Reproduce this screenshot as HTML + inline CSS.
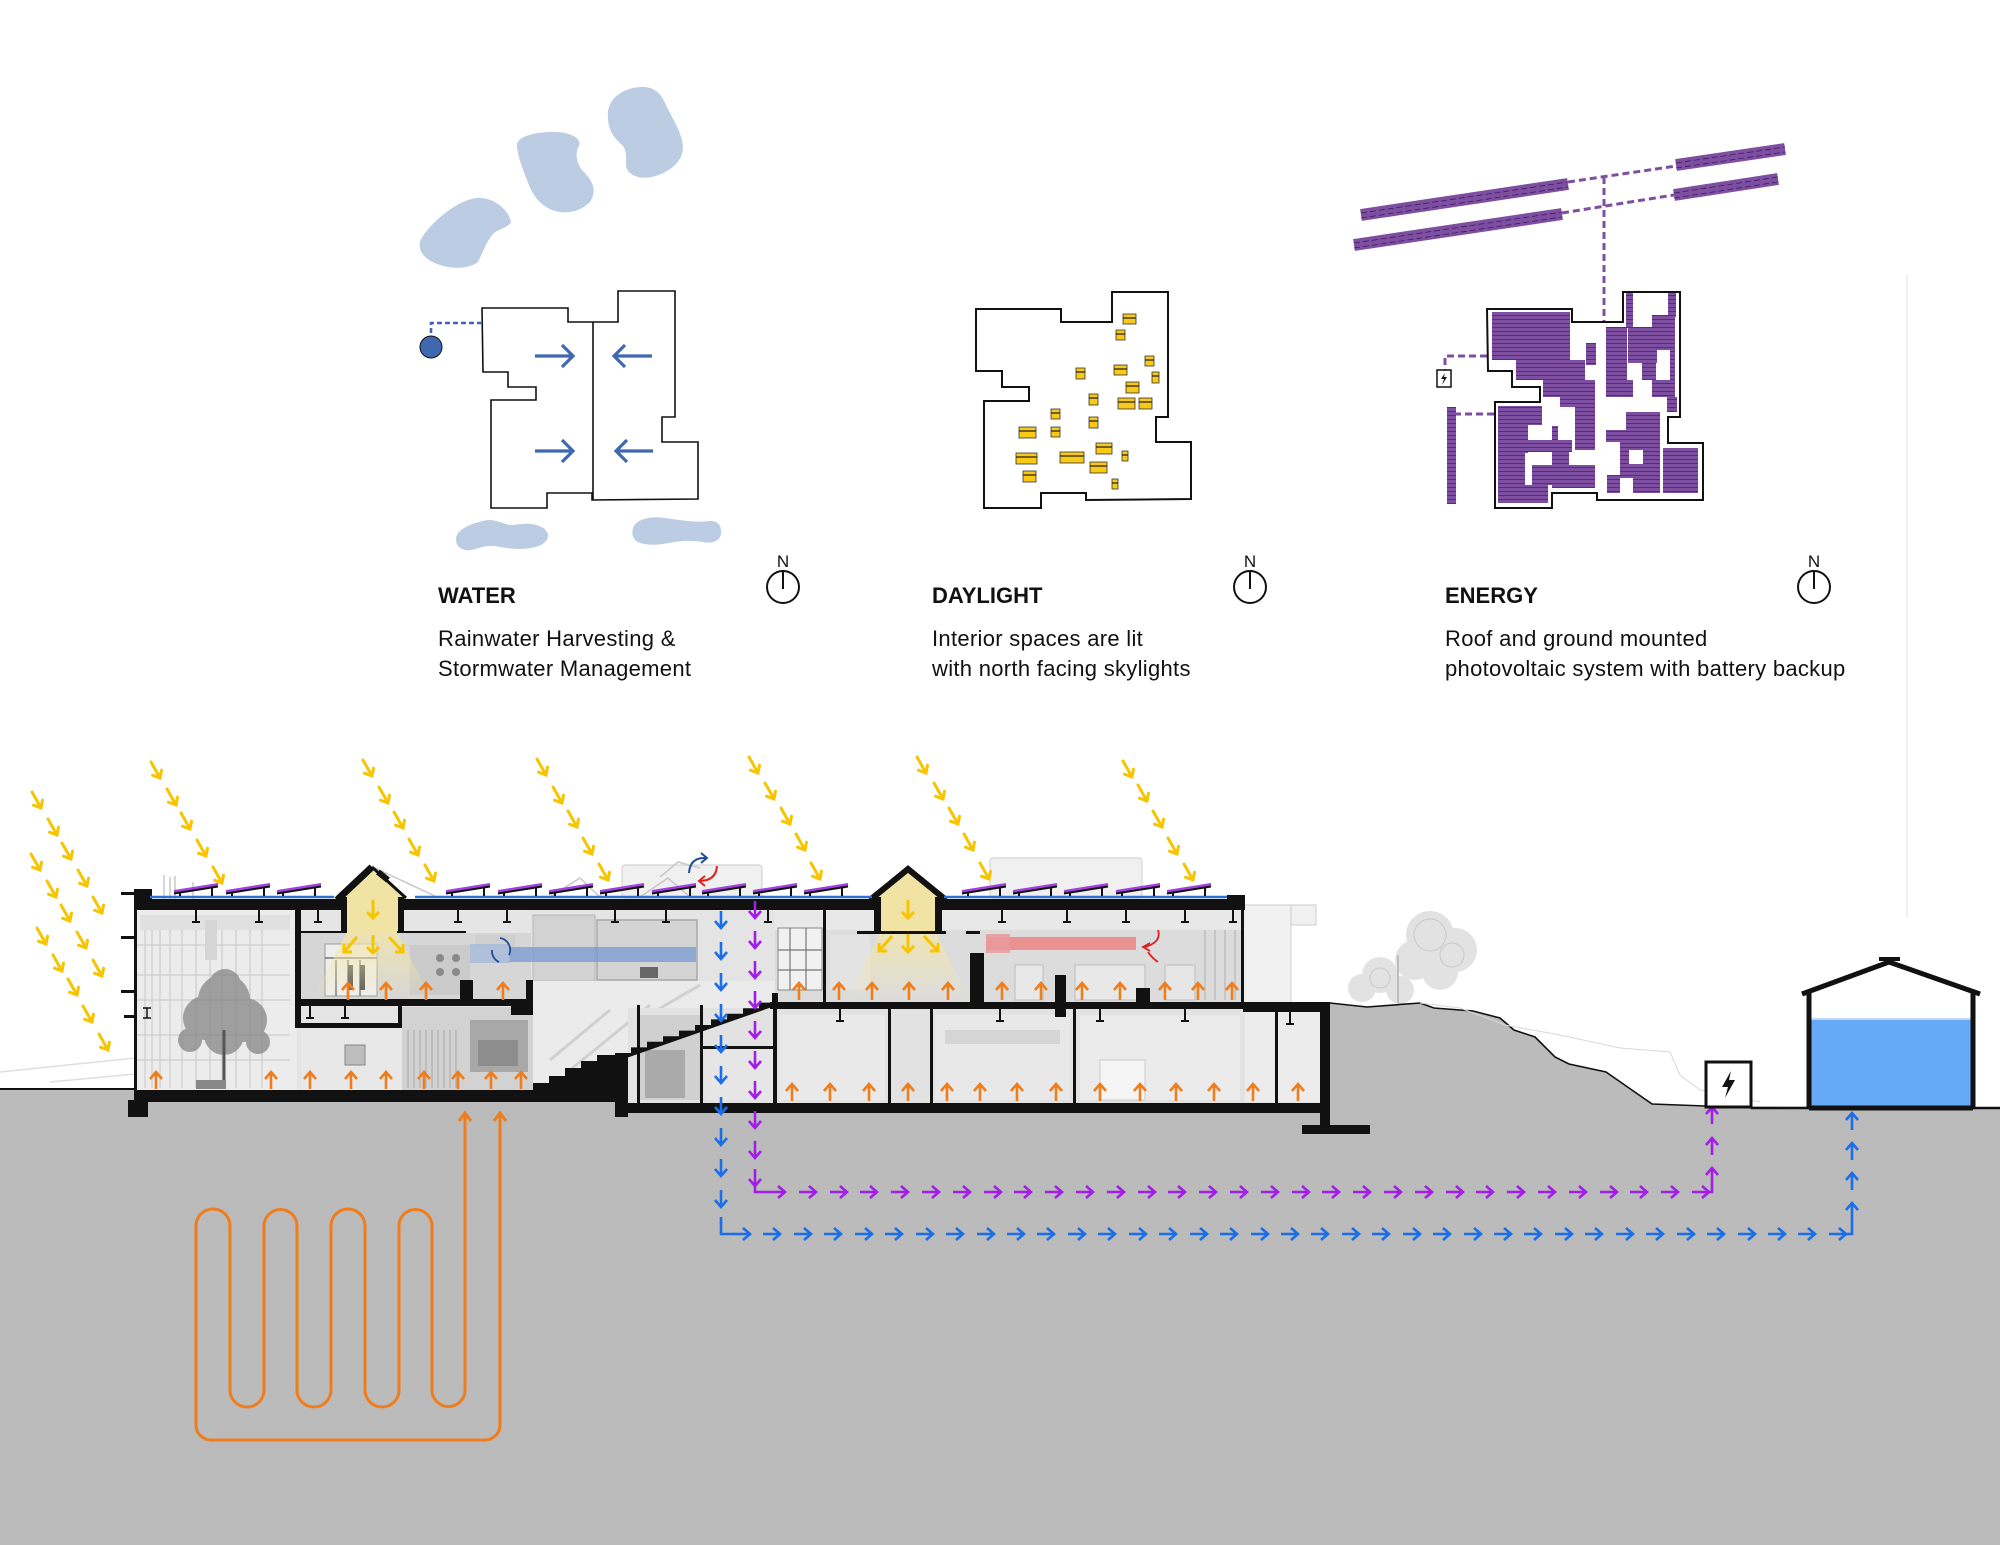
<!DOCTYPE html>
<html><head><meta charset="utf-8"><style>
html,body{margin:0;padding:0;background:#fff}
svg{display:block}
text{font-family:"Liberation Sans",Arial,sans-serif;fill:#111}
</style></head><body>
<svg width="2000" height="1545" viewBox="0 0 2000 1545" xmlns="http://www.w3.org/2000/svg">
<defs>
<path id="sun" d="M-9,-16L0,0M-7.5,-2.8L0,0L1.5,-7.8" fill="none" stroke-linecap="round"/>
<path id="dn" d="M0,-17V0M-6,-7L0,0L6,-7" fill="none"/>
<path id="up" d="M0,17V0M-6,7L0,0L6,7" fill="none"/>
<path id="rt" d="M-17,0H0M-7,-6L0,0L-7,6" fill="none"/>
<g id="pv"><path d="M0,7L44,0L44,3.5L0,10.5Z" fill="#a23fe0"/><path d="M0,10.5L44,3.5" stroke="#111" stroke-width="2"/><path d="M6,9.5V13M38,4.5V13" stroke="#111" stroke-width="2"/></g>
<g id="hg"><path d="M0,0V12M-4,12H4" stroke="#111" stroke-width="2" fill="none"/></g>
<pattern id="ph" width="6" height="4" patternUnits="userSpaceOnUse"><rect width="6" height="4" fill="#7e4fa0"/><line x1="0" y1="3.4" x2="6" y2="3.4" stroke="#3f1f63" stroke-width="0.7"/></pattern>
<linearGradient id="yl" x1="0" y1="0" x2="0" y2="1"><stop offset="0" stop-color="#f4e6a8" stop-opacity="0.8"/><stop offset="1" stop-color="#f4e6a8" stop-opacity="0"/></linearGradient>
</defs>

<line x1="1907" y1="274" x2="1907" y2="918" stroke="#f1f1f1" stroke-width="2"/>

<!-- WATER PLAN -->
<g fill="#bbcce3">
<path d="M420,242 C425,228 455,200 477,198 C492,197 508,208 511,222 C508,228 499,229 494,233 C487,240 484,250 478,262 C470,268 455,270 440,265 C425,260 418,252 420,242Z"/>
<path d="M517,147 C515,138 530,133 548,132 C570,131 582,138 579,146 C575,152 576,162 582,170 C592,180 598,190 590,202 C580,212 565,215 552,210 C540,205 532,195 527,180 C522,168 518,156 517,147Z"/>
<path d="M608,117 C606,100 622,88 640,87 C655,86 662,95 666,105 C672,118 682,132 683,147 C683,160 672,172 652,177 C638,180 627,174 626,166 C626,156 627,150 622,145 C614,138 608,130 608,117Z"/>
<path d="M457,535 C460,528 475,522 488,520 C500,520 506,526 514,525 C528,522 546,524 548,535 C548,545 535,549 517,549 C505,549 497,545 488,546 C478,547 470,553 462,549 C456,546 455,540 457,535Z"/>
<path d="M633,528 C636,519 650,516 665,518 C680,520 695,523 710,521 C719,521 722,527 721,534 C720,541 712,544 703,542 C690,540 680,541 668,543 C655,546 640,545 635,540 C632,536 632,532 633,528Z"/>
</g>
<path d="M482,308 H568 V322 H618 V291 H675 V417 H662 V442 H698 V499 L592,500 V493 H547 V508 H491 V400 H536 V387 H508 V372 H483 Z M593,322 V500" fill="none" stroke="#111" stroke-width="1.6"/>
<path d="M482,323 H431 V337" fill="none" stroke="#3f68b0" stroke-width="2.6" stroke-dasharray="5,3"/>
<circle cx="431" cy="347" r="11" fill="#3f68b0" stroke="#111" stroke-width="1"/>
<g stroke="#3f68b0" stroke-width="3.2" fill="none">
<path d="M535,356H573M562,345L573,356L562,367"/>
<path d="M535,451H573M562,440L573,451L562,462"/>
<path d="M652,356H614M625,345L614,356L625,367"/>
<path d="M653,451H616M627,440L616,451L627,462"/>
</g>

<!-- DAYLIGHT PLAN -->
<path d="M976,309 H1061 V322 H1112 V292 H1168 V417 H1156 V442 H1191 V499 L1086,500 V493 H1041 V508 H984 V401 H1029 V387 H1002 V371 H976 Z" fill="#fff" stroke="#111" stroke-width="2"/>
<g fill="#f8c916" stroke="#333" stroke-width="0.8">
<rect x="1123" y="314" width="13" height="10"/><rect x="1116" y="330" width="9" height="10"/>
<rect x="1145" y="356" width="9" height="10"/><rect x="1076" y="368" width="9" height="11"/>
<rect x="1114" y="365" width="13" height="10"/><rect x="1152" y="372" width="7" height="11"/>
<rect x="1126" y="382" width="13" height="11"/><rect x="1089" y="394" width="9" height="11"/>
<rect x="1118" y="398" width="17" height="11"/><rect x="1139" y="398" width="13" height="11"/>
<rect x="1051" y="409" width="9" height="10"/><rect x="1089" y="417" width="9" height="11"/>
<rect x="1019" y="427" width="17" height="11"/><rect x="1051" y="427" width="9" height="10"/>
<rect x="1096" y="443" width="16" height="11"/><rect x="1122" y="451" width="6" height="10"/>
<rect x="1016" y="453" width="21" height="11"/><rect x="1060" y="452" width="24" height="11"/>
<rect x="1023" y="471" width="13" height="11"/><rect x="1090" y="462" width="17" height="11"/>
<rect x="1112" y="479" width="6" height="10"/>
</g>
<path d="M1123,318H1136M1116,334H1125M1145,360H1154M1076,372H1085M1114,369H1127M1152,376H1159M1126,386H1139M1089,398H1098M1118,402H1135M1139,402H1152M1051,413H1060M1089,421H1098M1019,431H1036M1051,431H1060M1096,447H1112M1122,455H1128M1016,457H1037M1060,456H1084M1023,475H1036M1090,466H1107M1112,483H1118" stroke="#222" stroke-width="1.2"/>

<!-- ENERGY PLAN -->
<g stroke="#7e4fa0">
<line x1="1361" y1="215" x2="1568" y2="184" stroke-width="12"/>
<line x1="1354" y1="245" x2="1562" y2="214" stroke-width="12"/>
<line x1="1676" y1="165" x2="1785" y2="149" stroke-width="12"/>
<line x1="1674" y1="195" x2="1778" y2="179" stroke-width="12"/>
</g>
<g stroke="#3b1b5e" stroke-width="0.8" stroke-dasharray="6,3">
<line x1="1361" y1="213" x2="1568" y2="182"/><line x1="1361" y1="218" x2="1568" y2="187"/>
<line x1="1354" y1="243" x2="1562" y2="212"/><line x1="1354" y1="248" x2="1562" y2="217"/>
<line x1="1676" y1="163" x2="1785" y2="147"/><line x1="1676" y1="168" x2="1785" y2="152"/>
<line x1="1674" y1="193" x2="1778" y2="177"/><line x1="1674" y1="198" x2="1778" y2="182"/>
</g>
<g stroke="#7e4fa0" stroke-width="3" stroke-dasharray="7,4" fill="none">
<path d="M1568,182 L1676,166"/><path d="M1562,213 L1674,195"/>
<path d="M1604,177 V322"/>
<path d="M1487,356 H1445 V370"/>
<path d="M1494,414 H1456"/>
</g>
<path d="M1487,309 H1572 V322 H1623 V292 H1680 V417 H1668 V443 H1703 V500 H1597 V493 H1552 V508 H1495 V402 H1540 V387 H1512 V371 H1488 Z" fill="#fff" stroke="#111" stroke-width="2"/>
<g fill="url(#ph)">
<rect x="1492" y="312" width="78" height="48"/>
<rect x="1516" y="360" width="69" height="20"/>
<rect x="1543" y="380" width="52" height="17"/>
<rect x="1560" y="397" width="35" height="10"/>
<rect x="1575" y="407" width="20" height="43"/>
<rect x="1586" y="343" width="10" height="22"/>
<rect x="1498" y="406" width="44" height="19"/>
<rect x="1498" y="425" width="30" height="28"/>
<rect x="1528" y="440" width="44" height="12"/>
<rect x="1552" y="426" width="6" height="14"/>
<rect x="1498" y="452" width="27" height="51"/>
<rect x="1525" y="485" width="23" height="18"/>
<rect x="1532" y="465" width="20" height="20"/>
<rect x="1552" y="452" width="17" height="13"/>
<rect x="1552" y="465" width="43" height="23"/>
<rect x="1606" y="327" width="21" height="70"/>
<rect x="1613" y="380" width="20" height="17"/>
<rect x="1626" y="293" width="7" height="35"/>
<rect x="1628" y="327" width="47" height="23"/>
<rect x="1652" y="315" width="23" height="12"/>
<rect x="1668" y="293" width="8" height="24"/>
<rect x="1628" y="350" width="29" height="13"/>
<rect x="1642" y="363" width="14" height="17"/>
<rect x="1670" y="350" width="5" height="47"/>
<rect x="1652" y="380" width="23" height="17"/>
<rect x="1667" y="397" width="10" height="15"/>
<rect x="1626" y="412" width="34" height="18"/>
<rect x="1606" y="430" width="54" height="12"/>
<path d="M1620,442H1660V493H1633V478H1620Z M1629,450V464H1643V450Z" fill-rule="evenodd"/>
<rect x="1607" y="475" width="13" height="18"/>
<rect x="1663" y="448" width="35" height="45"/>
<rect x="1447" y="407" width="9" height="97"/>
</g>
<rect x="1437" y="370" width="14" height="17" fill="#fff" stroke="#111" stroke-width="1.5"/>
<path d="M1445,373L1441,379H1444L1442,385L1447,377H1444Z" fill="#111"/>

<!-- TEXT -->
<text x="438" y="603" font-size="22" font-weight="bold">WATER</text>
<text x="438" y="646" font-size="22" letter-spacing="0.3">Rainwater Harvesting &amp;</text>
<text x="438" y="676" font-size="22" letter-spacing="0.3">Stormwater Management</text>
<text x="932" y="603" font-size="22" font-weight="bold">DAYLIGHT</text>
<text x="932" y="646" font-size="22" letter-spacing="0.3">Interior spaces are lit</text>
<text x="932" y="676" font-size="22" letter-spacing="0.3">with north facing skylights</text>
<text x="1445" y="603" font-size="22" font-weight="bold">ENERGY</text>
<text x="1445" y="646" font-size="22" letter-spacing="0.3">Roof and ground mounted</text>
<text x="1445" y="676" font-size="22" letter-spacing="0.3">photovoltaic system with battery backup</text>
<g fill="none" stroke="#111" stroke-width="2">
<circle cx="783" cy="587" r="16"/><path d="M783,571V589"/>
<circle cx="1250" cy="587" r="16"/><path d="M1250,571V589"/>
<circle cx="1814" cy="587" r="16"/><path d="M1814,571V589"/>
</g>
<text x="783" y="567" font-size="17" text-anchor="middle">N</text>
<text x="1250" y="567" font-size="17" text-anchor="middle">N</text>
<text x="1814" y="567" font-size="17" text-anchor="middle">N</text>

<!-- BACKGROUND VOLUMES -->
<g fill="#f0f0f0" stroke="#d4d4d4" stroke-width="1.2">
<rect x="622" y="865" width="140" height="33" rx="3"/>
<rect x="990" y="858" width="152" height="40" rx="3"/>
<rect x="1243" y="905" width="48" height="100"/>
<rect x="1291" y="905" width="25" height="20"/>
</g>
<g stroke="#c8c8c8" stroke-width="1.5" fill="none">
<path d="M164,900V875M170,900V877M175,900V876M193,900V882"/>
<path d="M375,868L437,897M550,897L580,878L600,897M640,897L668,878L690,897M660,877L678,862L700,868"/>
</g>
<path d="M0,1072L135,1058M50,1082L135,1074" stroke="#dedede" stroke-width="1.5" fill="none"/>
<g fill="#e2e2e2">
<circle cx="1430" cy="935" r="24"/><circle cx="1455" cy="950" r="22"/><circle cx="1415" cy="960" r="20"/>
<circle cx="1440" cy="972" r="18"/><circle cx="1380" cy="975" r="18"/><circle cx="1362" cy="988" r="14"/><circle cx="1400" cy="990" r="14"/>
</g>
<g fill="none" stroke="#c9c9c9" stroke-width="1"><circle cx="1430" cy="935" r="16"/><circle cx="1452" cy="955" r="12"/><circle cx="1380" cy="978" r="10"/></g>
<path d="M1398,955V1003" stroke="#bdbdbd" stroke-width="2"/>

<!-- GROUND -->
<path d="M0,1090 H1330 V1003 L1367,1007 L1420,1003 L1434,1008 L1473,1011 L1500,1018 L1514,1030 L1535,1037 L1555,1057 L1569,1064 L1606,1072 L1629,1088 L1652,1104 L1705,1106 L2000,1108 V1545 H0 Z" fill="#bbbbbb"/>
<path d="M1330,1003 L1367,1007 L1420,1003 L1434,1008 L1473,1011 L1500,1018 L1514,1030 L1535,1037 L1555,1057 L1569,1064 L1606,1072 L1629,1088 L1652,1104 L1705,1106" fill="none" stroke="#111" stroke-width="1.6"/>
<path d="M1420,1003 L1460,1008 L1505,1025 L1560,1035 L1620,1048 L1670,1052 L1680,1075 L1700,1090 L1760,1102" fill="none" stroke="#d8d8d8" stroke-width="1"/>
<path d="M0,1089H136" stroke="#111" stroke-width="2"/>
<path d="M1751,1108H2000" stroke="#111" stroke-width="2.5"/>

<!-- BUILDING INTERIOR -->
<path d="M136,910 H1243 V1003 H1330 V1103 H615 V1090 H136 Z" fill="#e4e4e4"/>
<rect x="137" y="910" width="160" height="180" fill="#ececec"/>
<g stroke="#cdcdcd" stroke-width="1.2">
<path d="M145,925V1088M152,925V1088M160,925V1088M170,925V1088M182,925V1088M196,925V1088M210,925V1088M222,925V1088M236,925V1088M250,925V1088M262,925V1088"/>
<path d="M137,945H290M137,975H290M137,1000H290M137,1035H290M137,1060H290"/>
</g>
<rect x="140" y="915" width="150" height="15" fill="#e0e0e0"/>
<rect x="205" y="920" width="12" height="40" fill="#d5d5d5"/>
<g fill="#7f7f7f" opacity="0.7">
<circle cx="224" cy="1000" r="26"/><circle cx="205" cy="1018" r="22"/><circle cx="245" cy="1020" r="22"/>
<circle cx="224" cy="1035" r="20"/><circle cx="190" cy="1040" r="12"/><circle cx="258" cy="1042" r="12"/><circle cx="225" cy="985" r="16"/>
</g>
<path d="M224,1030V1083" stroke="#555" stroke-width="3"/>
<rect x="196" y="1080" width="30" height="9" fill="#888"/>
<rect x="301" y="910" width="230" height="90" fill="#d6d6d6"/>
<rect x="301" y="910" width="230" height="23" fill="#e5e5e5"/>
<rect x="325" y="944" width="52" height="52" fill="#eeeeee" stroke="#999" stroke-width="1"/>
<path d="M336,960V996M348,960V996M360,960V996M325,958H377" stroke="#777" stroke-width="1.5"/>
<rect x="348" y="965" width="5" height="25" fill="#555"/><rect x="360" y="965" width="5" height="25" fill="#555"/>
<rect x="410" y="945" width="60" height="50" fill="#cbcbcb"/>
<g fill="#8a8a8a"><circle cx="440" cy="958" r="4"/><circle cx="456" cy="958" r="4"/><circle cx="440" cy="972" r="4"/><circle cx="456" cy="972" r="4"/></g>
<rect x="475" y="935" width="40" height="12" fill="#cfcfcf"/>
<rect x="533" y="915" width="62" height="66" fill="#d2d2d2" stroke="#b5b5b5" stroke-width="1"/>
<rect x="597" y="920" width="100" height="60" fill="#d4d4d4" stroke="#a8a8a8" stroke-width="1.5"/>
<rect x="533" y="981" width="242" height="110" fill="#ebebeb"/>
<rect x="640" y="967" width="18" height="11" fill="#666"/>
<path d="M550,1060L610,1010M570,1070L650,1005M640,1020L700,985" stroke="#d0d0d0" stroke-width="3"/>
<rect x="775" y="910" width="468" height="92" fill="#dcdcdc"/>
<rect x="775" y="910" width="468" height="20" fill="#e8e8e8"/>
<rect x="778" y="928" width="44" height="62" fill="#f1f1f1" stroke="#888" stroke-width="1"/>
<path d="M790,928V990M806,928V990M778,950H822M778,970H822" stroke="#777" stroke-width="1.2"/>
<rect x="830" y="935" width="40" height="55" fill="#e3e3e3"/>
<rect x="1015" y="965" width="28" height="35" fill="#e8e8e8" stroke="#bbb"/>
<rect x="1075" y="965" width="70" height="35" fill="#e8e8e8" stroke="#bbb"/>
<rect x="1165" y="965" width="30" height="35" fill="#e6e6e6" stroke="#bbb"/>
<path d="M1205,930V1000M1215,930V1000M1225,930V1000M1235,930V1000" stroke="#bfbfbf" stroke-width="1.5"/>
<rect x="628" y="1008" width="702" height="95" fill="#e2e2e2"/>
<rect x="640" y="1015" width="60" height="85" fill="#d0d0d0"/>
<rect x="645" y="1050" width="40" height="48" fill="#aaaaaa"/>
<rect x="705" y="1050" width="68" height="50" fill="#e6e6e6"/>
<rect x="780" y="1015" width="105" height="85" fill="#e9e9e9"/>
<rect x="935" y="1015" width="135" height="85" fill="#e8e8e8"/>
<rect x="945" y="1030" width="115" height="14" fill="#d5d5d5"/>
<rect x="1080" y="1015" width="160" height="85" fill="#ebebeb"/>
<rect x="1100" y="1060" width="45" height="40" fill="#f5f5f5" stroke="#ccc"/>
<rect x="1245" y="1012" width="75" height="90" fill="#ececec"/>
<rect x="301" y="1027" width="101" height="63" fill="#e8e8e8"/>
<rect x="345" y="1045" width="20" height="20" fill="#bdbdbd" stroke="#888"/>
<rect x="402" y="1007" width="131" height="83" fill="#d2d2d2"/>
<path d="M408,1030V1088M414,1030V1088M420,1030V1088M426,1030V1088M432,1030V1088M438,1030V1088M444,1030V1088M450,1030V1088M456,1030V1088" stroke="#ababab" stroke-width="1"/>
<rect x="470" y="1020" width="58" height="52" fill="#a8a8a8"/>
<rect x="478" y="1040" width="40" height="26" fill="#8d8d8d"/>

<!-- ducts -->
<rect x="509" y="947" width="187" height="15" fill="#6f97d2" opacity="0.7"/>
<rect x="470" y="944" width="40" height="19" fill="#9fb6db" opacity="0.7"/>
<path d="M500,938 A12,12 0 0 1 509,955 M499,962 A12,12 0 0 1 492,950" fill="none" stroke="#1d4e9a" stroke-width="1.8"/>
<rect x="986" y="937" width="150" height="13" fill="#ec8585" opacity="0.85"/>
<rect x="986" y="934" width="24" height="19" fill="#e99a9a" opacity="0.85"/>
<path d="M1158,930 Q1162,942 1145,947 M1148,952 Q1152,958 1158,962" fill="none" stroke="#d8201e" stroke-width="1.8"/>
<path d="M1150,943L1143,947L1150,951" fill="none" stroke="#d8201e" stroke-width="1.8"/>

<!-- skylight glow -->
<path d="M347,932 H397 L432,1000 H312 Z" fill="url(#yl)"/>
<path d="M881,932 H935 L970,1000 H846 Z" fill="url(#yl)"/>
<path d="M341,897 L372,869 L404,897 V933 H341 Z" fill="#f1e3a3"/>
<path d="M874,897 L908,872 L942,897 V933 H874 Z" fill="#f1e3a3"/>

<!-- STRUCTURE -->
<g fill="#111">
<rect x="136" y="899" width="211" height="11"/>
<rect x="398" y="899" width="483" height="11"/>
<rect x="935" y="899" width="310" height="11"/>
<rect x="135" y="889" width="17" height="21"/>
<rect x="1227" y="895" width="18" height="15"/>
<rect x="134" y="889" width="3" height="201"/>
<rect x="134" y="1090" width="486" height="12"/>
<rect x="128" y="1100" width="20" height="17"/>
<rect x="615" y="1103" width="715" height="10"/>
<rect x="615" y="1053" width="13" height="64"/>
<rect x="1320" y="1003" width="10" height="122"/>
<rect x="1302" y="1125" width="68" height="9"/>
<rect x="770" y="1002" width="560" height="7"/>
<rect x="1243" y="1003" width="87" height="9"/>
<rect x="298" y="999" width="235" height="7"/>
<rect x="295" y="910" width="6" height="117"/>
<rect x="295" y="1023" width="107" height="5"/>
<rect x="398" y="1006" width="4" height="22"/>
<rect x="460" y="980" width="13" height="22"/>
<rect x="526" y="980" width="7" height="35"/>
<rect x="511" y="1006" width="20" height="9"/>
<rect x="341" y="897" width="6" height="36"/>
<rect x="398" y="897" width="6" height="36"/>
<rect x="874" y="897" width="7" height="36"/>
<rect x="935" y="897" width="7" height="36"/>
<rect x="301" y="931" width="46" height="2"/>
<rect x="397" y="931" width="69" height="2"/>
<rect x="857" y="931" width="89" height="3"/>
<rect x="966" y="931" width="14" height="3"/>
<rect x="823" y="910" width="3" height="92"/>
<rect x="970" y="953" width="14" height="49"/>
<rect x="1055" y="975" width="11" height="42"/>
<rect x="1136" y="988" width="14" height="20"/>
<rect x="1241" y="910" width="3" height="93"/>
<rect x="772" y="993" width="6" height="12"/>
<rect x="637" y="1005" width="3" height="98"/>
<rect x="700" y="1005" width="3" height="98"/>
<rect x="773" y="1000" width="4" height="103"/>
<rect x="703" y="1046" width="70" height="3"/>
<rect x="888" y="1008" width="3" height="95"/>
<rect x="930" y="1008" width="3" height="95"/>
<rect x="1073" y="1008" width="3" height="95"/>
<rect x="1275" y="1012" width="3" height="91"/>
<rect x="121" y="892" width="14" height="3"/><rect x="121" y="936" width="14" height="3"/>
<rect x="121" y="990" width="14" height="3"/><rect x="124" y="1015" width="11" height="3"/>
<path d="M533,1090 V1083 H549 V1076 H565 V1068 H581 V1061 H597 V1055 H615 V1090 Z"/>
<path d="M615,1053 H631 V1047.4 H647 V1041.8 H663 V1036.2 H679 V1030.6 H695 V1025 H711 V1019.4 H727 V1013.8 H743 V1008.2 H759 V1002.6 H775 V1006 L615,1062 Z"/>
</g>
<path d="M143,1008H151M147,1008V1018M143,1018H151" stroke="#111" stroke-width="1.5"/>
<path d="M337,900 L372,867" stroke="#111" stroke-width="7"/>
<path d="M372,867 L406,898" stroke="#111" stroke-width="3"/>
<path d="M378,872 L388,880" stroke="#111" stroke-width="6"/>
<path d="M870,900 L908,869 L946,900" fill="none" stroke="#111" stroke-width="6"/>
<g>
<use href="#hg" x="196" y="910"/><use href="#hg" x="259" y="910"/><use href="#hg" x="318" y="910"/>
<use href="#hg" x="458" y="910"/><use href="#hg" x="507" y="910"/><use href="#hg" x="615" y="910"/>
<use href="#hg" x="666" y="910"/><use href="#hg" x="768" y="910"/><use href="#hg" x="1002" y="910"/>
<use href="#hg" x="1067" y="910"/><use href="#hg" x="1126" y="910"/><use href="#hg" x="1185" y="910"/>
<use href="#hg" x="1233" y="910"/><use href="#hg" x="840" y="1009"/><use href="#hg" x="1000" y="1009"/>
<use href="#hg" x="1100" y="1009"/><use href="#hg" x="1185" y="1009"/><use href="#hg" x="1290" y="1012"/>
<use href="#hg" x="345" y="1006"/><use href="#hg" x="310" y="1006"/>
</g>
<path d="M150,897H334M415,897H872M944,897H1227" stroke="#2f6fd0" stroke-width="2.5"/>
<g>
<use href="#pv" x="174" y="883"/><use href="#pv" x="226" y="883"/><use href="#pv" x="277" y="883"/>
<use href="#pv" x="446" y="883"/><use href="#pv" x="498" y="883"/><use href="#pv" x="549" y="883"/>
<use href="#pv" x="600" y="883"/><use href="#pv" x="652" y="883"/><use href="#pv" x="702" y="883"/>
<use href="#pv" x="753" y="883"/><use href="#pv" x="804" y="883"/>
<use href="#pv" x="962" y="883"/><use href="#pv" x="1013" y="883"/><use href="#pv" x="1064" y="883"/>
<use href="#pv" x="1116" y="883"/><use href="#pv" x="1167" y="883"/>
</g>
<path d="M689,873 Q690,857 706,858" fill="none" stroke="#1d4e9a" stroke-width="2"/>
<path d="M701,853L707,858L701,863" fill="none" stroke="#1d4e9a" stroke-width="2"/>
<path d="M717,866 Q716,881 699,881" fill="none" stroke="#e0201e" stroke-width="2"/>
<path d="M705,876L699,881L705,886" fill="none" stroke="#e0201e" stroke-width="2"/>

<!-- SUN ARROWS -->
<g stroke="#f6c500" stroke-width="3">
<use href="#sun" x="41" y="808"/><use href="#sun" x="57" y="835"/><use href="#sun" x="71" y="859"/><use href="#sun" x="87" y="886"/><use href="#sun" x="102" y="913"/>
<use href="#sun" x="40" y="870"/><use href="#sun" x="56" y="897"/><use href="#sun" x="70" y="921"/><use href="#sun" x="86" y="948"/><use href="#sun" x="102" y="976"/>
<use href="#sun" x="46" y="944"/><use href="#sun" x="62" y="971"/><use href="#sun" x="77" y="995"/><use href="#sun" x="92" y="1022"/><use href="#sun" x="108" y="1050"/>
<use href="#sun" x="160" y="778"/><use href="#sun" x="176" y="805"/><use href="#sun" x="190" y="829"/><use href="#sun" x="206" y="856"/><use href="#sun" x="222" y="883"/>
<use href="#sun" x="372" y="776"/><use href="#sun" x="388" y="803"/><use href="#sun" x="403" y="828"/><use href="#sun" x="418" y="855"/><use href="#sun" x="434" y="881"/>
<use href="#sun" x="546" y="775"/><use href="#sun" x="562" y="803"/><use href="#sun" x="577" y="827"/><use href="#sun" x="592" y="854"/><use href="#sun" x="608" y="880"/>
<use href="#sun" x="758" y="773"/><use href="#sun" x="774" y="799"/><use href="#sun" x="790" y="824"/><use href="#sun" x="805" y="850"/><use href="#sun" x="820" y="879"/>
<use href="#sun" x="926" y="773"/><use href="#sun" x="943" y="799"/><use href="#sun" x="958" y="824"/><use href="#sun" x="973" y="850"/><use href="#sun" x="989" y="879"/>
<use href="#sun" x="1132" y="777"/><use href="#sun" x="1147" y="801"/><use href="#sun" x="1162" y="827"/><use href="#sun" x="1177" y="854"/><use href="#sun" x="1193" y="880"/>
</g>
<g stroke="#f6c500" stroke-width="3" fill="none">
<path d="M373,900V918M367,912L373,918L379,912"/>
<path d="M373,935V953M367,947L373,953L379,947"/>
<path d="M357,937L344,952M344,944V952H352"/>
<path d="M389,937L403,952M403,944V952H395"/>
<path d="M908,900V918M902,912L908,918L914,912"/>
<path d="M908,934V952M902,946L908,952L914,946"/>
<path d="M892,936L879,951M879,943V951H887"/>
<path d="M924,936L938,951M938,943V951H930"/>
</g>

<!-- ORANGE ARROWS -->
<g stroke="#f07d1c" stroke-width="2.6">
<use href="#up" x="156" y="1072"/><use href="#up" x="271" y="1072"/><use href="#up" x="310" y="1072"/><use href="#up" x="351" y="1072"/><use href="#up" x="386" y="1072"/><use href="#up" x="424" y="1072"/><use href="#up" x="458" y="1072"/><use href="#up" x="491" y="1072"/><use href="#up" x="521" y="1072"/>
<use href="#up" x="348" y="983"/><use href="#up" x="386" y="983"/><use href="#up" x="426" y="983"/><use href="#up" x="503" y="983"/>
<use href="#up" x="799" y="983"/><use href="#up" x="839" y="983"/><use href="#up" x="872" y="983"/><use href="#up" x="909" y="983"/><use href="#up" x="948" y="983"/><use href="#up" x="1002" y="983"/><use href="#up" x="1041" y="983"/><use href="#up" x="1082" y="983"/><use href="#up" x="1120" y="983"/><use href="#up" x="1165" y="983"/><use href="#up" x="1198" y="983"/><use href="#up" x="1232" y="983"/>
<use href="#up" x="792" y="1084"/><use href="#up" x="830" y="1084"/><use href="#up" x="869" y="1084"/><use href="#up" x="908" y="1084"/><use href="#up" x="947" y="1084"/><use href="#up" x="980" y="1084"/><use href="#up" x="1017" y="1084"/><use href="#up" x="1056" y="1084"/><use href="#up" x="1100" y="1084"/><use href="#up" x="1140" y="1084"/><use href="#up" x="1176" y="1084"/><use href="#up" x="1214" y="1084"/><use href="#up" x="1253" y="1084"/><use href="#up" x="1298" y="1084"/>
</g>

<!-- GEOTHERMAL LOOP -->
<path d="M465,1113 V1390 A16.5,16.5 0 0 1 432,1390 V1226 A16.5,16.5 0 0 0 399,1226 V1390 A17,17 0 0 1 365,1390 V1226 A17,17 0 0 0 331,1226 V1390 A17,17 0 0 1 297,1390 V1226 A16.5,16.5 0 0 0 264,1226 V1390 A17,17 0 0 1 230,1390 V1226 A17,17 0 0 0 196,1226 V1425 A15,15 0 0 0 211,1440 H485 A15,15 0 0 0 500,1425 V1113" fill="none" stroke="#f07d1c" stroke-width="3"/>
<path d="M459,1121L465,1113L471,1121M494,1121L500,1113L506,1121" fill="none" stroke="#f07d1c" stroke-width="3"/>

<!-- BLUE WATER ARROWS -->
<g stroke="#1a6fe8" stroke-width="2.6">
<use href="#dn" x="721" y="928"/><use href="#dn" x="721" y="959"/><use href="#dn" x="721" y="990"/><use href="#dn" x="721" y="1021"/><use href="#dn" x="721" y="1052"/><use href="#dn" x="721" y="1083"/><use href="#dn" x="721" y="1114"/><use href="#dn" x="721" y="1145"/><use href="#dn" x="721" y="1176"/><use href="#dn" x="721" y="1207"/>
<path d="M721,1217V1234H735" fill="none"/>
<use href="#rt" x="750" y="1234"/><use href="#rt" x="780" y="1234"/><use href="#rt" x="811" y="1234"/><use href="#rt" x="841" y="1234"/><use href="#rt" x="872" y="1234"/><use href="#rt" x="902" y="1234"/><use href="#rt" x="933" y="1234"/><use href="#rt" x="963" y="1234"/><use href="#rt" x="994" y="1234"/><use href="#rt" x="1024" y="1234"/><use href="#rt" x="1054" y="1234"/><use href="#rt" x="1085" y="1234"/><use href="#rt" x="1115" y="1234"/><use href="#rt" x="1146" y="1234"/><use href="#rt" x="1176" y="1234"/><use href="#rt" x="1207" y="1234"/><use href="#rt" x="1237" y="1234"/><use href="#rt" x="1268" y="1234"/><use href="#rt" x="1298" y="1234"/><use href="#rt" x="1328" y="1234"/><use href="#rt" x="1359" y="1234"/><use href="#rt" x="1389" y="1234"/><use href="#rt" x="1420" y="1234"/><use href="#rt" x="1450" y="1234"/><use href="#rt" x="1481" y="1234"/><use href="#rt" x="1511" y="1234"/><use href="#rt" x="1541" y="1234"/><use href="#rt" x="1572" y="1234"/><use href="#rt" x="1602" y="1234"/><use href="#rt" x="1633" y="1234"/><use href="#rt" x="1663" y="1234"/><use href="#rt" x="1694" y="1234"/><use href="#rt" x="1724" y="1234"/><use href="#rt" x="1755" y="1234"/><use href="#rt" x="1785" y="1234"/><use href="#rt" x="1815" y="1234"/><use href="#rt" x="1846" y="1234"/>
<path d="M1846,1234H1852V1220" fill="none"/>
<use href="#up" x="1852" y="1113"/><use href="#up" x="1852" y="1143"/><use href="#up" x="1852" y="1173"/><use href="#up" x="1852" y="1203"/>
</g>

<!-- PURPLE ENERGY ARROWS -->
<g stroke="#a21ee6" stroke-width="2.6">
<use href="#dn" x="755" y="918"/><use href="#dn" x="755" y="948"/><use href="#dn" x="755" y="978"/><use href="#dn" x="755" y="1008"/><use href="#dn" x="755" y="1038"/><use href="#dn" x="755" y="1068"/><use href="#dn" x="755" y="1098"/><use href="#dn" x="755" y="1128"/><use href="#dn" x="755" y="1158"/><use href="#dn" x="755" y="1186"/>
<path d="M755,1186V1192H768" fill="none"/>
<use href="#rt" x="785" y="1192"/><use href="#rt" x="816" y="1192"/><use href="#rt" x="847" y="1192"/><use href="#rt" x="877" y="1192"/><use href="#rt" x="908" y="1192"/><use href="#rt" x="939" y="1192"/><use href="#rt" x="970" y="1192"/><use href="#rt" x="1001" y="1192"/><use href="#rt" x="1031" y="1192"/><use href="#rt" x="1062" y="1192"/><use href="#rt" x="1093" y="1192"/><use href="#rt" x="1124" y="1192"/><use href="#rt" x="1155" y="1192"/><use href="#rt" x="1185" y="1192"/><use href="#rt" x="1216" y="1192"/><use href="#rt" x="1247" y="1192"/><use href="#rt" x="1278" y="1192"/><use href="#rt" x="1309" y="1192"/><use href="#rt" x="1339" y="1192"/><use href="#rt" x="1370" y="1192"/><use href="#rt" x="1401" y="1192"/><use href="#rt" x="1432" y="1192"/><use href="#rt" x="1463" y="1192"/><use href="#rt" x="1493" y="1192"/><use href="#rt" x="1524" y="1192"/><use href="#rt" x="1555" y="1192"/><use href="#rt" x="1586" y="1192"/><use href="#rt" x="1617" y="1192"/><use href="#rt" x="1647" y="1192"/><use href="#rt" x="1678" y="1192"/><use href="#rt" x="1709" y="1192"/>
<path d="M1709,1192H1712V1185" fill="none"/>
<use href="#up" x="1712" y="1107"/><use href="#up" x="1712" y="1138"/><use href="#up" x="1712" y="1168"/>
</g>

<!-- BATTERY BOX -->
<rect x="1706" y="1062" width="45" height="45" fill="#fff" stroke="#111" stroke-width="3"/>
<path d="M1731,1071L1722,1087H1728L1725,1098L1735,1080H1729Z" fill="#111"/>

<!-- WATER TANK -->
<rect x="1811" y="1019" width="160" height="87" fill="#66aaf7"/>
<path d="M1811,1019H1971" stroke="#bcd7f0" stroke-width="2"/>
<path d="M1809,990V1108M1973,990V1108M1809,1108H1973" stroke="#111" stroke-width="5" fill="none"/>
<path d="M1802,994L1889,962L1980,994" stroke="#111" stroke-width="5" fill="none"/>
<path d="M1879,959H1900" stroke="#111" stroke-width="4"/>
</svg>
</body></html>
